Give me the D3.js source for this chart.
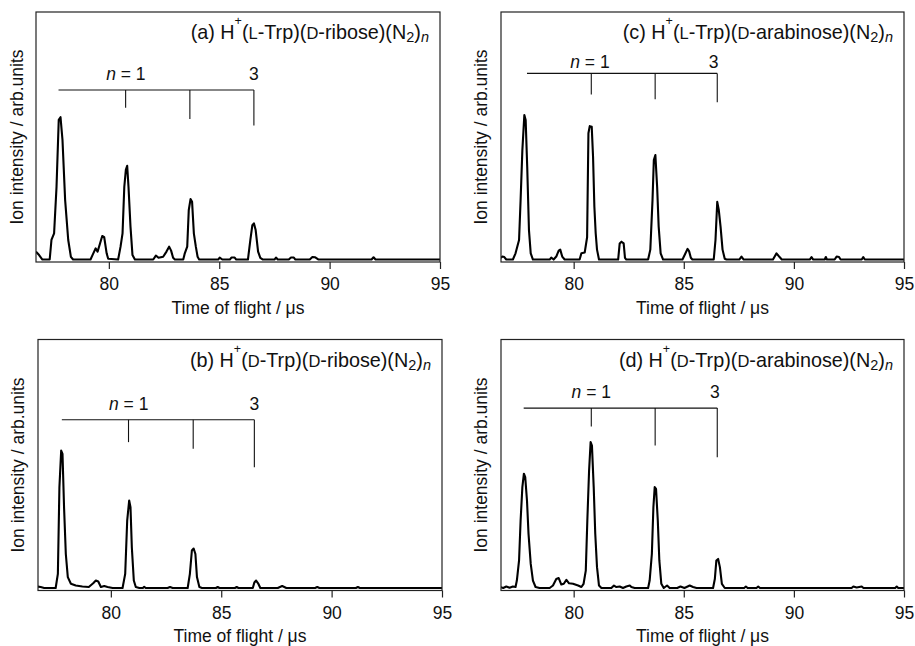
<!DOCTYPE html>
<html>
<head>
<meta charset="utf-8">
<script src="https://cdn.jsdelivr.net/npm/d3@7.9.0/dist/d3.min.js"></script>
<style>
  html, body { margin: 0; padding: 0; background: #fff; }
  svg { display: block; font-family: "Liberation Sans", Arial, sans-serif; }
</style>
</head>
<body>
<svg id="chart" width="915" height="646"></svg>
<script>
// time-of-flight range and tick labels (µs)
const xDomain = [76.7, 95];
const xTicks = [80, 85, 90, 95];

// traces: [time of flight, intensity]
const traceA = [[76.70,0.032],[76.84,0.018],[76.99,0],[77.32,0],[77.40,0.079],[77.52,0.106],[77.63,0.294],[77.73,0.564],[77.81,0.575],[77.90,0.483],[78.02,0.240],[78.16,0.079],[78.28,0.011],[78.38,0],[79.17,0],[79.26,0.018],[79.40,0.045],[79.49,0.032],[79.60,0.065],[79.70,0.095],[79.79,0.090],[79.90,0.025],[79.97,0.003],[80.42,0],[80.53,0.052],[80.62,0.106],[80.70,0.294],[80.77,0.362],[80.83,0.379],[80.89,0.294],[80.98,0.133],[81.07,0.018],[81.18,0],[82.01,0],[82.13,0.016],[82.25,0.007],[82.46,0.011],[82.61,0.032],[82.73,0.052],[82.82,0.036],[82.91,0.007],[82.99,0],[83.37,0],[83.44,0.025],[83.55,0.052],[83.62,0.200],[83.70,0.244],[83.77,0.233],[83.85,0.106],[83.94,0.052],[84.02,0.011],[84.09,0],[84.95,0],[85.02,0.008],[85.14,0],[85.48,0],[85.55,0.008],[85.70,0.008],[85.77,0],[86.30,0],[86.41,0.079],[86.50,0.139],[86.57,0.146],[86.65,0.119],[86.76,0.032],[86.86,0.007],[86.98,0],[87.50,0],[87.57,0.008],[87.65,0],[88.15,0],[88.25,0.008],[88.38,0.008],[88.45,0],[89.10,0],[89.22,0.010],[89.35,0.009],[89.50,0],[91.90,0],[91.99,0.009],[92.08,0],[95,0]];

const traceB = [[76.67,0.006],[76.82,0.004],[76.98,0],[77.50,0],[77.60,0.057],[77.67,0.406],[77.75,0.553],[77.81,0.540],[77.88,0.325],[77.96,0.137],[78.05,0.044],[78.19,0.017],[78.41,0.010],[78.71,0.006],[79.00,0.004],[79.20,0.019],[79.32,0.030],[79.43,0.026],[79.55,0.004],[79.70,0.008],[79.85,0.004],[80.08,0],[80.53,0],[80.65,0.057],[80.74,0.271],[80.83,0.352],[80.89,0.325],[80.95,0.164],[81.04,0.030],[81.13,0.004],[81.29,0],[81.45,0],[81.51,0.005],[81.58,0],[82.57,0],[82.68,0.004],[82.80,0],[83.48,0],[83.58,0.057],[83.67,0.151],[83.75,0.159],[83.83,0.137],[83.90,0.044],[84.01,0.004],[84.13,0],[84.76,0],[84.84,0.004],[84.92,0],[85.62,0],[85.70,0.004],[85.78,0],[86.43,0],[86.50,0.022],[86.58,0.030],[86.67,0.019],[86.77,0],[87.56,0],[87.76,0.008],[87.95,0],[89.25,0],[89.35,0.004],[89.45,0],[91.10,0],[91.19,0.004],[91.28,0],[95,0]];

const traceC = [[76.67,0.006],[76.76,0.012],[76.85,0.010],[76.94,0],[77.24,0],[77.36,0.025],[77.52,0.079],[77.59,0.240],[77.67,0.442],[77.76,0.584],[77.82,0.564],[77.89,0.376],[77.97,0.119],[78.05,0.025],[78.15,0],[78.91,0],[78.98,0.008],[79.09,0],[79.21,0.012],[79.32,0.036],[79.39,0.040],[79.48,0.012],[79.59,0],[80.27,0],[80.35,0.025],[80.50,0.028],[80.61,0.090],[80.67,0.510],[80.73,0.539],[80.82,0.536],[80.88,0.415],[80.94,0.213],[81.00,0.106],[81.06,0.040],[81.15,0],[82.02,0],[82.09,0.065],[82.17,0.072],[82.27,0.065],[82.33,0.007],[82.39,0],[83.38,0],[83.48,0.040],[83.58,0.240],[83.64,0.402],[83.71,0.422],[83.79,0.294],[83.86,0.133],[83.95,0.025],[84.06,0],[84.94,0],[85.05,0.020],[85.17,0.043],[85.24,0.034],[85.32,0.007],[85.39,0],[86.36,0],[86.44,0.079],[86.52,0.233],[86.59,0.200],[86.67,0.133],[86.76,0.040],[86.86,0.003],[86.94,0],[87.52,0],[87.62,0.012],[87.72,0],[89.05,0],[89.21,0.025],[89.35,0.010],[89.45,0],[90.72,0],[90.80,0.010],[90.88,0],[91.40,0],[91.45,0.010],[91.50,0],[91.85,0],[91.94,0.012],[92.05,0.010],[92.12,0],[93.08,0],[93.15,0.010],[93.22,0],[95,0]];

const traceD = [[76.67,0.004],[76.80,0],[76.94,0.006],[77.09,0.001],[77.24,0.006],[77.36,0.004],[77.42,0.030],[77.52,0.111],[77.59,0.271],[77.67,0.406],[77.74,0.460],[77.80,0.446],[77.88,0.352],[77.95,0.218],[78.05,0.097],[78.15,0.030],[78.27,0.004],[78.45,0],[78.91,0],[79.06,0.010],[79.21,0.036],[79.32,0.040],[79.44,0.014],[79.55,0.017],[79.67,0.033],[79.79,0.019],[79.97,0.017],[80.20,0.010],[80.35,0.004],[80.45,0.017],[80.55,0.070],[80.62,0.271],[80.70,0.473],[80.77,0.587],[80.83,0.573],[80.91,0.406],[80.98,0.218],[81.06,0.084],[81.15,0.010],[81.26,0],[81.71,0],[81.83,0.010],[81.94,0.004],[82.09,0.006],[82.24,0],[82.39,0.006],[82.55,0.010],[82.62,0.004],[82.77,0],[83.38,0],[83.45,0.030],[83.55,0.137],[83.62,0.325],[83.68,0.406],[83.74,0.399],[83.82,0.271],[83.89,0.111],[83.98,0.017],[84.09,0],[84.24,0.010],[84.36,0],[84.70,0],[84.85,0.006],[85.03,0],[85.27,0.010],[85.42,0.004],[85.58,0],[86.33,0],[86.41,0.036],[86.48,0.111],[86.56,0.117],[86.64,0.084],[86.73,0.017],[86.86,0],[87.74,0],[87.82,0.006],[87.90,0],[88.30,0],[88.38,0.006],[88.46,0],[92.62,0],[92.70,0.006],[92.85,0.002],[93.08,0.006],[93.16,0],[94.60,0],[94.67,0.006],[94.74,0],[95,0]];

// cluster-size brackets: peak times for n = 0..3, bar level, tick ends
const bracketTimesA = [77.72, 80.76, 83.67, 86.57];
const bracketTimesB = [77.78, 80.80, 83.73, 86.50];
const bracketTimesC = [77.88, 80.80, 83.70, 86.52];
const bracketTimesD = [77.73, 80.80, 83.70, 86.52];
const bracketBar = [0.685, 0.677, 0.752, 0.724];
const bracketEndsA = [0.613, 0.568, 0.541];
const bracketEndsB = [0.587, 0.560, 0.486];
const bracketEndsC = [0.667, 0.648, 0.635];
const bracketEndsD = [0.650, 0.573, 0.526];
const bracketLabelLevel = [0.725, 0.717, 0.775, 0.765];
const labelN1Times = [80.77, 80.81, 80.74, 80.80];
const label3Times = [86.57, 86.50, 86.36, 86.41];

// panel titles: letter, Trp form, sugar
const panelLetters = ['a', 'b', 'c', 'd'];
const trpForms = ['L', 'D', 'L', 'D'];
const sugars = ['ribose', 'ribose', 'arabinose', 'arabinose'];

const xLabel = 'Time of flight / \u03bcs';
const yLabel = 'Ion intensity / arb.units';

const panels = [
  { x0: 36,  y0: 12,  w: 404, h: 250, trace: traceA, bt: bracketTimesA, be: bracketEndsA, yl: 23 },
  { x0: 38,  y0: 339.5, w: 404, h: 251, trace: traceB, bt: bracketTimesB, be: bracketEndsB, yl: 24 },
  { x0: 501, y0: 12,  w: 403, h: 250, trace: traceC, bt: bracketTimesC, be: bracketEndsC, yl: 487 },
  { x0: 501, y0: 339.5, w: 403, h: 251, trace: traceD, bt: bracketTimesD, be: bracketEndsD, yl: 487 }
];

const svg = d3.select('#chart');

panels.forEach((p, i) => {
  const x = d3.scaleLinear().domain(xDomain).range([0, p.w]);
  const y = d3.scaleLinear().domain([-0.01, 1]).range([p.h, 0]);
  const g = svg.append('g').attr('transform', `translate(${p.x0},${p.y0})`);

  g.append('clipPath').attr('id', 'clip' + i)
    .append('rect').attr('width', p.w).attr('height', p.h);

  // trace
  const line = d3.line().x((d) => x(d[0])).y((d) => y(d[1]));
  g.append('path')
    .datum(p.trace)
    .attr('clip-path', `url(#clip${i})`)
    .attr('d', line)
    .attr('fill', 'none')
    .attr('stroke', '#000')
    .attr('stroke-width', 2.1)
    .attr('stroke-linejoin', 'round');

  // bracket
  const bg = g.append('g').attr('stroke', '#111').attr('stroke-width', 1.1);
  bg.append('line')
    .attr('x1', x(p.bt[0])).attr('x2', x(p.bt[3]))
    .attr('y1', y(bracketBar[i])).attr('y2', y(bracketBar[i]));
  p.be.forEach((e, k) => {
    bg.append('line')
      .attr('x1', x(p.bt[k + 1])).attr('x2', x(p.bt[k + 1]))
      .attr('y1', y(bracketBar[i])).attr('y2', y(e));
  });
  const n1 = g.append('text')
    .attr('x', x(labelN1Times[i])).attr('y', y(bracketLabelLevel[i]))
    .attr('text-anchor', 'middle').attr('font-size', 17.5).attr('fill', '#111');
  n1.append('tspan').attr('font-style', 'italic').text('n');
  n1.append('tspan').text(' = 1');
  g.append('text')
    .attr('x', x(label3Times[i])).attr('y', y(bracketLabelLevel[i]))
    .attr('text-anchor', 'middle').attr('font-size', 17.5).attr('fill', '#111')
    .text('3');

  // frame
  g.append('rect')
    .attr('width', p.w).attr('height', p.h)
    .attr('fill', 'none').attr('stroke', '#222').attr('stroke-width', 1.2);

  // x axis
  const ax = g.append('g')
    .attr('transform', `translate(0,${p.h})`)
    .call(d3.axisBottom(x).tickValues(xTicks).tickSize(7).tickPadding(9).tickFormat(d3.format('d')));
  ax.select('.domain').remove();
  ax.selectAll('line').attr('stroke', '#222').attr('stroke-width', 1.2);
  ax.selectAll('text').attr('font-size', 17.5).attr('fill', '#111')
    .attr('font-family', '"Liberation Sans", Arial, sans-serif');

  g.append('text')
    .attr('x', p.w / 2).attr('y', p.h + 51.5)
    .attr('text-anchor', 'middle').attr('font-size', 17.5).attr('fill', '#111')
    .text(xLabel);

  svg.append('text')
    .attr('transform', `translate(${p.yl},${p.y0 + p.h / 2}) rotate(-90)`)
    .attr('text-anchor', 'middle').attr('font-size', 17.5).attr('fill', '#111')
    .text(yLabel);

  // title
  const t = g.append('text')
    .attr('x', p.w - 11).attr('y', 27)
    .attr('text-anchor', 'end').attr('font-size', 19.8).attr('fill', '#111');
  t.append('tspan').text(`(${panelLetters[i]}) H`);
  t.append('tspan').attr('font-size', 12.5).attr('dy', -14).text('+');
  t.append('tspan').attr('dy', 14).text('(');
  t.append('tspan').attr('font-size', 16.5).text(trpForms[i]);
  t.append('tspan').text('-Trp)(');
  t.append('tspan').attr('font-size', 16.5).text('D');
  t.append('tspan').text(`-${sugars[i]})(N`);
  t.append('tspan').attr('font-size', 14.5).attr('dy', 3).text('2');
  t.append('tspan').attr('dy', -3).text(')');
  t.append('tspan').attr('font-size', 14.5).attr('font-style', 'italic').attr('dy', 3).text('n');
});
</script>
</body>
</html>
